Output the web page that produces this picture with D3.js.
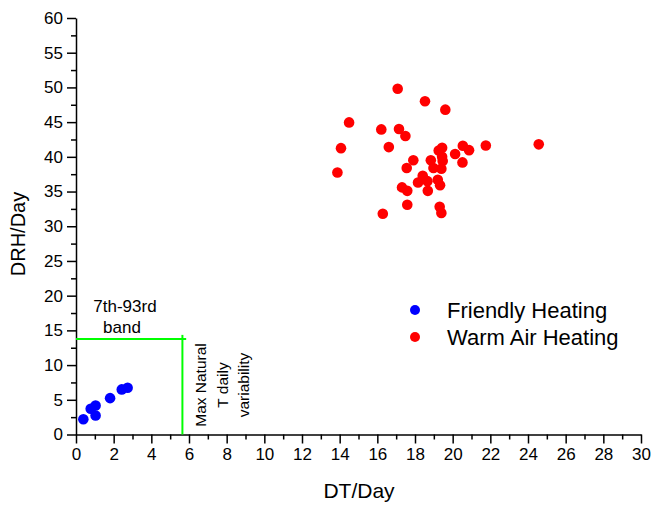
<!DOCTYPE html>
<html>
<head>
<meta charset="utf-8">
<script src="https://cdn.jsdelivr.net/npm/d3@7"></script>
<style>
  body { margin: 0; background: #fff; }
  text { font-family: "Liberation Sans", Arial, sans-serif; fill: #000; }
  .axis path, .axis line { stroke: #000; stroke-width: 1.5; }
  .axis text { font-size: 17px; }
</style>
</head>
<body>
<div id="chart"></div>
<script>
// Data
const friendlyDT  = [0.39, 0.78, 1.04, 1.04, 1.81, 2.43, 2.74];
const friendlyDRH = [2.2, 3.7, 4.18, 2.74, 5.24, 6.5, 6.73];

const warmDT  = [17.08, 18.53, 19.61, 14.50, 16.21, 17.15, 17.49, 14.07, 16.61, 21.76,
                 24.57, 20.54, 20.87, 19.44, 19.26, 20.13, 19.44, 17.91, 18.84, 19.47,
                 20.52, 13.88, 17.56, 18.98, 19.40, 18.41, 18.66, 18.16, 19.21, 19.33,
                 17.31, 17.59, 18.68, 17.59, 19.31, 19.40, 16.29];
const warmDRH = [49.8, 48.0, 46.8, 44.96, 43.95, 44.0, 43.0, 41.25, 41.4, 41.64,
                 41.8, 41.6, 40.96, 41.3, 40.9, 40.4, 40.0, 39.5, 39.5, 39.4,
                 39.2, 37.75, 38.4, 38.4, 38.3, 37.26, 36.5, 36.3, 36.7, 35.9,
                 35.6, 35.1, 35.1, 33.1, 32.8, 31.9, 31.8];

const seriesNames  = ["Friendly Heating", "Warm Air Heating"];
const seriesColors = ["#0000ff", "#ff0000"];

const xMajorTicks = d3.range(0, 31, 2);
const xMinorTicks = d3.range(1, 30, 2);
const yMajorTicks = d3.range(0, 61, 5);
const yMinorTicks = d3.range(2.5, 60, 5);

// green reference lines: 7th-93rd band and max natural T variability
const bandDRH = 13.75;
const bandEndDT = 5.85;
const maxNaturalDT = 5.65;
const maxNaturalTop = 14.35;

// Setup
const width = 652, height = 505;
const x = d3.scaleLinear().domain([0, 30]).range([76, 641]);
const y = d3.scaleLinear().domain([0, 60]).range([434.5, 18]);

const svg = d3.select("#chart").append("svg")
  .attr("width", width)
  .attr("height", height);

// Minor ticks
svg.append("g")
  .attr("class", "axis")
  .attr("transform", `translate(0, ${y(0)})`)
  .call(d3.axisBottom(x).tickValues(xMinorTicks).tickSize(5).tickFormat(""))
  .call(g => g.select(".domain").remove());

svg.append("g")
  .attr("class", "axis")
  .attr("transform", `translate(${x(0)}, 0)`)
  .call(d3.axisLeft(y).tickValues(yMinorTicks).tickSize(5).tickFormat(""))
  .call(g => g.select(".domain").remove());

// Major axes
svg.append("g")
  .attr("class", "axis")
  .attr("transform", `translate(0, ${y(0)})`)
  .call(d3.axisBottom(x).tickValues(xMajorTicks).tickSize(9).tickSizeOuter(0).tickPadding(4).tickFormat(d3.format("d")));

svg.append("g")
  .attr("class", "axis")
  .attr("transform", `translate(${x(0)}, 0)`)
  .call(d3.axisLeft(y).tickValues(yMajorTicks).tickSize(9).tickSizeOuter(0).tickPadding(4).tickFormat(d3.format("d")));

// Axis titles
svg.append("text")
  .attr("x", 359)
  .attr("y", 498)
  .attr("text-anchor", "middle")
  .style("font-size", "21px")
  .text("DT/Day");

svg.append("text")
  .attr("transform", "translate(25, 234) rotate(-90)")
  .attr("text-anchor", "middle")
  .style("font-size", "20px")
  .text("DRH/Day");

// Green lines
svg.append("line")
  .attr("x1", x(0)).attr("x2", x(bandEndDT))
  .attr("y1", y(bandDRH)).attr("y2", y(bandDRH))
  .attr("stroke", "#00ff00").attr("stroke-width", 2);

svg.append("line")
  .attr("x1", x(maxNaturalDT)).attr("x2", x(maxNaturalDT))
  .attr("y1", y(0)).attr("y2", y(maxNaturalTop))
  .attr("stroke", "#00ff00").attr("stroke-width", 2);

// Annotation labels
svg.append("text")
  .attr("x", 125).attr("y", 312)
  .attr("text-anchor", "middle")
  .style("font-size", "17px")
  .text("7th-93rd");

svg.append("text")
  .attr("x", 122).attr("y", 333)
  .attr("text-anchor", "middle")
  .style("font-size", "17px")
  .text("band");

const rotLines = ["Max Natural", "T daily", "variability"];
rotLines.forEach((t, i) => {
  svg.append("text")
    .attr("transform", `translate(${206 + i * 21.5}, 385) rotate(-90)`)
    .attr("text-anchor", "middle")
    .style("font-size", "15.5px")
    .text(t);
});

// Points
const friendly = friendlyDT.map((d, i) => ({ dt: d, drh: friendlyDRH[i] }));
const warm = warmDT.map((d, i) => ({ dt: d, drh: warmDRH[i] }));

svg.append("g").selectAll("circle")
  .data(friendly)
  .join("circle")
  .attr("cx", d => x(d.dt))
  .attr("cy", d => y(d.drh))
  .attr("r", 5.3)
  .attr("fill", seriesColors[0]);

svg.append("g").selectAll("circle")
  .data(warm)
  .join("circle")
  .attr("cx", d => x(d.dt))
  .attr("cy", d => y(d.drh))
  .attr("r", 5.3)
  .attr("fill", seriesColors[1]);

// Legend
const legend = svg.append("g").attr("transform", "translate(415, 310)");
seriesNames.forEach((name, i) => {
  legend.append("circle")
    .attr("cx", 0).attr("cy", i * 27)
    .attr("r", 5)
    .attr("fill", seriesColors[i]);
  legend.append("text")
    .attr("x", 32).attr("y", i * 27 + 8)
    .style("font-size", "22px")
    .text(name);
});
</script>
</body>
</html>
